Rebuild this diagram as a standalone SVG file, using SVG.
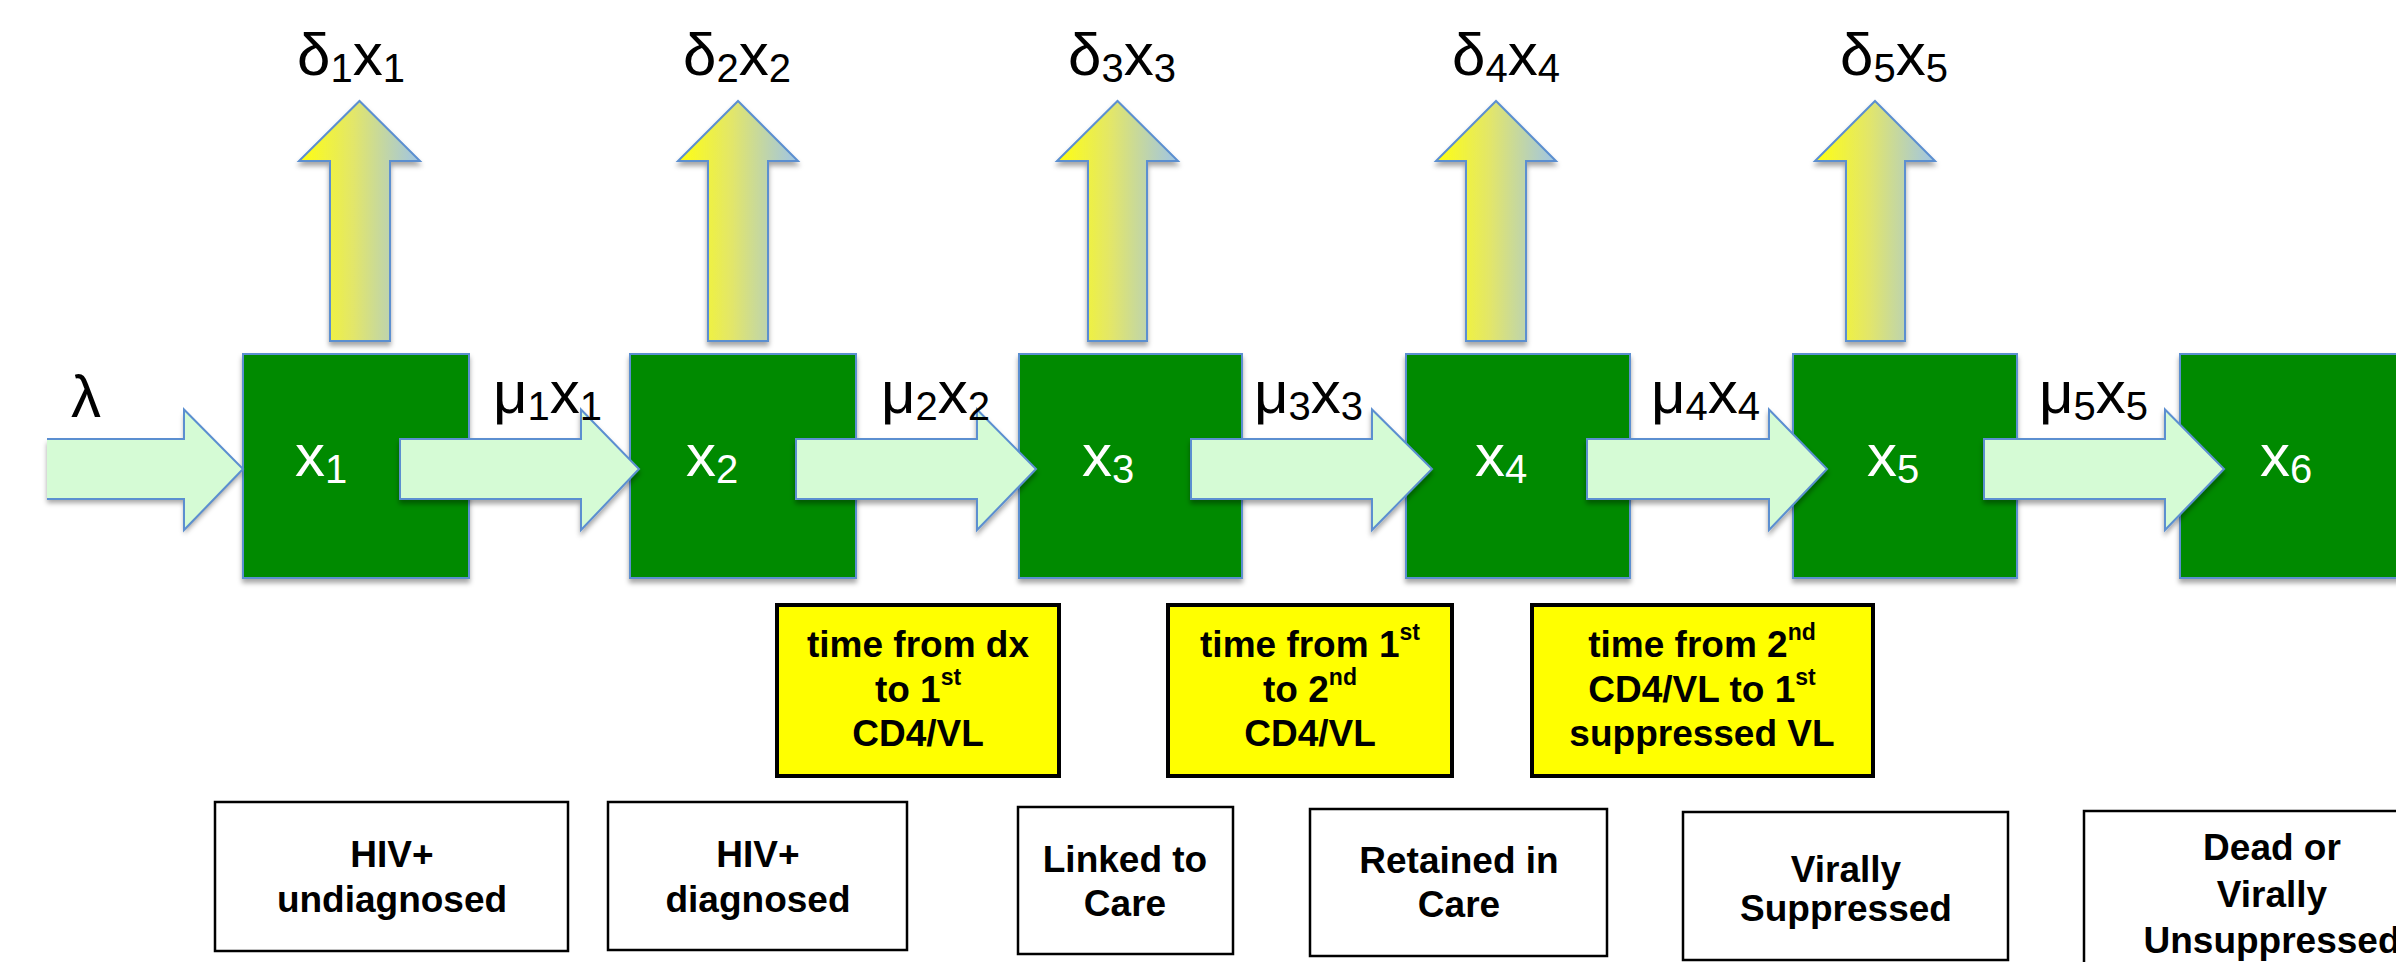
<svg xmlns="http://www.w3.org/2000/svg" width="2396" height="962" viewBox="0 0 2396 962">
<defs>
<linearGradient id="upg" x1="0" y1="0" x2="1" y2="0">
<stop offset="0" stop-color="#ffff10"/>
<stop offset="0.45" stop-color="#e2e66a"/>
<stop offset="1" stop-color="#9fc4e6"/>
</linearGradient>
<filter id="sh" x="-10%" y="-10%" width="120%" height="130%">
<feDropShadow dx="0" dy="4" stdDeviation="2.5" flood-color="#000" flood-opacity="0.35"/>
</filter>
</defs>
<style>
.box{fill:#008a00;stroke:#5b8fd0;stroke-width:2}
.harrow{fill:#d5fbd5;stroke:#5b8fd0;stroke-width:2;stroke-linejoin:miter}
.uarrow{fill:url(#upg);stroke:#5b8fd0;stroke-width:2}
.math{font-family:"Liberation Sans",Arial,sans-serif;font-size:60px;fill:#000}
.inner{font-family:"Liberation Sans",Arial,sans-serif;font-size:60px;fill:#fff}
.sub{font-size:40px}
.ybox{fill:#ffff00;stroke:#000;stroke-width:4}
.wbox{fill:#fff;stroke:#000;stroke-width:2.5}
.lbl{font-family:"Liberation Sans",Arial,sans-serif;font-size:37px;font-weight:bold;fill:#000;text-anchor:middle}
.sup{font-size:23px}
</style>
<rect width="2396" height="962" fill="#fff"/>

<g id="node-x1"><rect class="box" x="243" y="354" width="226" height="224" filter="url(#sh)"/><text class="inner" x="295" y="476">x<tspan class="sub" dy="7">1</tspan></text></g>
<g id="node-x2"><rect class="box" x="630" y="354" width="226" height="224" filter="url(#sh)"/><text class="inner" x="686" y="476">x<tspan class="sub" dy="7">2</tspan></text></g>
<g id="node-x3"><rect class="box" x="1019" y="354" width="223" height="224" filter="url(#sh)"/><text class="inner" x="1082" y="476">x<tspan class="sub" dy="7">3</tspan></text></g>
<g id="node-x4"><rect class="box" x="1406" y="354" width="224" height="224" filter="url(#sh)"/><text class="inner" x="1475" y="476">x<tspan class="sub" dy="7">4</tspan></text></g>
<g id="node-x5"><rect class="box" x="1793" y="354" width="224" height="224" filter="url(#sh)"/><text class="inner" x="1867" y="476">x<tspan class="sub" dy="7">5</tspan></text></g>
<g id="node-x6"><rect class="box" x="2180" y="354" width="240" height="224" filter="url(#sh)"/><text class="inner" x="2260" y="476">x<tspan class="sub" dy="7">6</tspan></text></g>

<g id="connectors">
<path d="M47,439 L184,439 L184,409.5 L243,469 L184,530 L184,499 L47,499 Z" fill="#d5fbd5" filter="url(#sh)"/>
<path d="M47,439 L184,439 L184,409.5 L243,469 L184,530 L184,499 L47,499" fill="none" stroke="#5b8fd0" stroke-width="2"/>
<path class="harrow" filter="url(#sh)" d="M400,439 L581,439 L581,409.5 L639,469 L581,530 L581,499 L400,499 Z"/>
<path class="harrow" filter="url(#sh)" d="M796,439 L977,439 L977,409.5 L1036,469 L977,530 L977,499 L796,499 Z"/>
<path class="harrow" filter="url(#sh)" d="M1191,439 L1372,439 L1372,409.5 L1432,469 L1372,530 L1372,499 L1191,499 Z"/>
<path class="harrow" filter="url(#sh)" d="M1587,439 L1769,439 L1769,409.5 L1827,469 L1769,530 L1769,499 L1587,499 Z"/>
<path class="harrow" filter="url(#sh)" d="M1984,439 L2165,439 L2165,409.5 L2224,469 L2165,530 L2165,499 L1984,499 Z"/>

<path class="uarrow" filter="url(#sh)" d="M330,341 L330,161 L299,161 L359.5,101 L420,161 L390,161 L390,341 Z"/>
<path class="uarrow" filter="url(#sh)" d="M708,341 L708,161 L678,161 L738,101 L798,161 L768,161 L768,341 Z"/>
<path class="uarrow" filter="url(#sh)" d="M1088,341 L1088,161 L1057,161 L1117.5,101 L1178,161 L1147,161 L1147,341 Z"/>
<path class="uarrow" filter="url(#sh)" d="M1466,341 L1466,161 L1436,161 L1496,101 L1556,161 L1526,161 L1526,341 Z"/>
<path class="uarrow" filter="url(#sh)" d="M1846,341 L1846,161 L1815,161 L1875,101 L1935,161 L1905,161 L1905,341 Z"/>

<text class="math" x="71" y="417">λ</text>
<text class="math" x="493" y="413">μ<tspan class="sub" dy="7">1</tspan><tspan dy="-7">x</tspan><tspan class="sub" dy="7">1</tspan></text>
<text class="math" x="881" y="413">μ<tspan class="sub" dy="7">2</tspan><tspan dy="-7">x</tspan><tspan class="sub" dy="7">2</tspan></text>
<text class="math" x="1254" y="413">μ<tspan class="sub" dy="7">3</tspan><tspan dy="-7">x</tspan><tspan class="sub" dy="7">3</tspan></text>
<text class="math" x="1651" y="413">μ<tspan class="sub" dy="7">4</tspan><tspan dy="-7">x</tspan><tspan class="sub" dy="7">4</tspan></text>
<text class="math" x="2039" y="413">μ<tspan class="sub" dy="7">5</tspan><tspan dy="-7">x</tspan><tspan class="sub" dy="7">5</tspan></text>

<text class="math" x="297" y="75">δ<tspan class="sub" dy="7">1</tspan><tspan dy="-7">x</tspan><tspan class="sub" dy="7">1</tspan></text>
<text class="math" x="683" y="75">δ<tspan class="sub" dy="7">2</tspan><tspan dy="-7">x</tspan><tspan class="sub" dy="7">2</tspan></text>
<text class="math" x="1068" y="75">δ<tspan class="sub" dy="7">3</tspan><tspan dy="-7">x</tspan><tspan class="sub" dy="7">3</tspan></text>
<text class="math" x="1452" y="75">δ<tspan class="sub" dy="7">4</tspan><tspan dy="-7">x</tspan><tspan class="sub" dy="7">4</tspan></text>
<text class="math" x="1840" y="75">δ<tspan class="sub" dy="7">5</tspan><tspan dy="-7">x</tspan><tspan class="sub" dy="7">5</tspan></text>
</g>

<g id="time-1">
<rect class="ybox" x="777" y="605" width="282" height="171"/>
<text class="lbl" x="918" y="657">time from dx</text>
<text class="lbl" x="918" y="702">to 1<tspan class="sup" dy="-17">st</tspan></text>
<text class="lbl" x="918" y="746">CD4/VL</text>
</g>
<g id="time-2">
<rect class="ybox" x="1168" y="605" width="284" height="171"/>
<text class="lbl" x="1310" y="657">time from 1<tspan class="sup" dy="-17">st</tspan></text>
<text class="lbl" x="1310" y="702">to 2<tspan class="sup" dy="-17">nd</tspan></text>
<text class="lbl" x="1310" y="746">CD4/VL</text>
</g>
<g id="time-3">
<rect class="ybox" x="1532" y="605" width="341" height="171"/>
<text class="lbl" x="1702" y="657">time from 2<tspan class="sup" dy="-17">nd</tspan></text>
<text class="lbl" x="1702" y="702">CD4/VL to 1<tspan class="sup" dy="-17">st</tspan></text>
<text class="lbl" x="1702" y="746">suppressed VL</text>
</g>

<g id="stage-1">
<rect class="wbox" x="215" y="802" width="353" height="149"/>
<text class="lbl" x="392" y="867">HIV+</text>
<text class="lbl" x="392" y="912">undiagnosed</text>
</g>
<g id="stage-2">
<rect class="wbox" x="608" y="802" width="299" height="148"/>
<text class="lbl" x="758" y="867">HIV+</text>
<text class="lbl" x="758" y="912">diagnosed</text>
</g>
<g id="stage-3">
<rect class="wbox" x="1018" y="807" width="215" height="147"/>
<text class="lbl" x="1125" y="872">Linked to</text>
<text class="lbl" x="1125" y="916">Care</text>
</g>
<g id="stage-4">
<rect class="wbox" x="1310" y="809" width="297" height="147"/>
<text class="lbl" x="1459" y="873">Retained in</text>
<text class="lbl" x="1459" y="917">Care</text>
</g>
<g id="stage-5">
<rect class="wbox" x="1683" y="812" width="325" height="148"/>
<text class="lbl" x="1846" y="882">Virally</text>
<text class="lbl" x="1846" y="921">Suppressed</text>
</g>
<g id="stage-6">
<rect class="wbox" x="2084" y="811" width="380" height="170"/>
<text class="lbl" x="2272" y="860">Dead or</text>
<text class="lbl" x="2272" y="907">Virally</text>
<text class="lbl" x="2272" y="953">Unsuppressed</text>
</g>
</svg>
